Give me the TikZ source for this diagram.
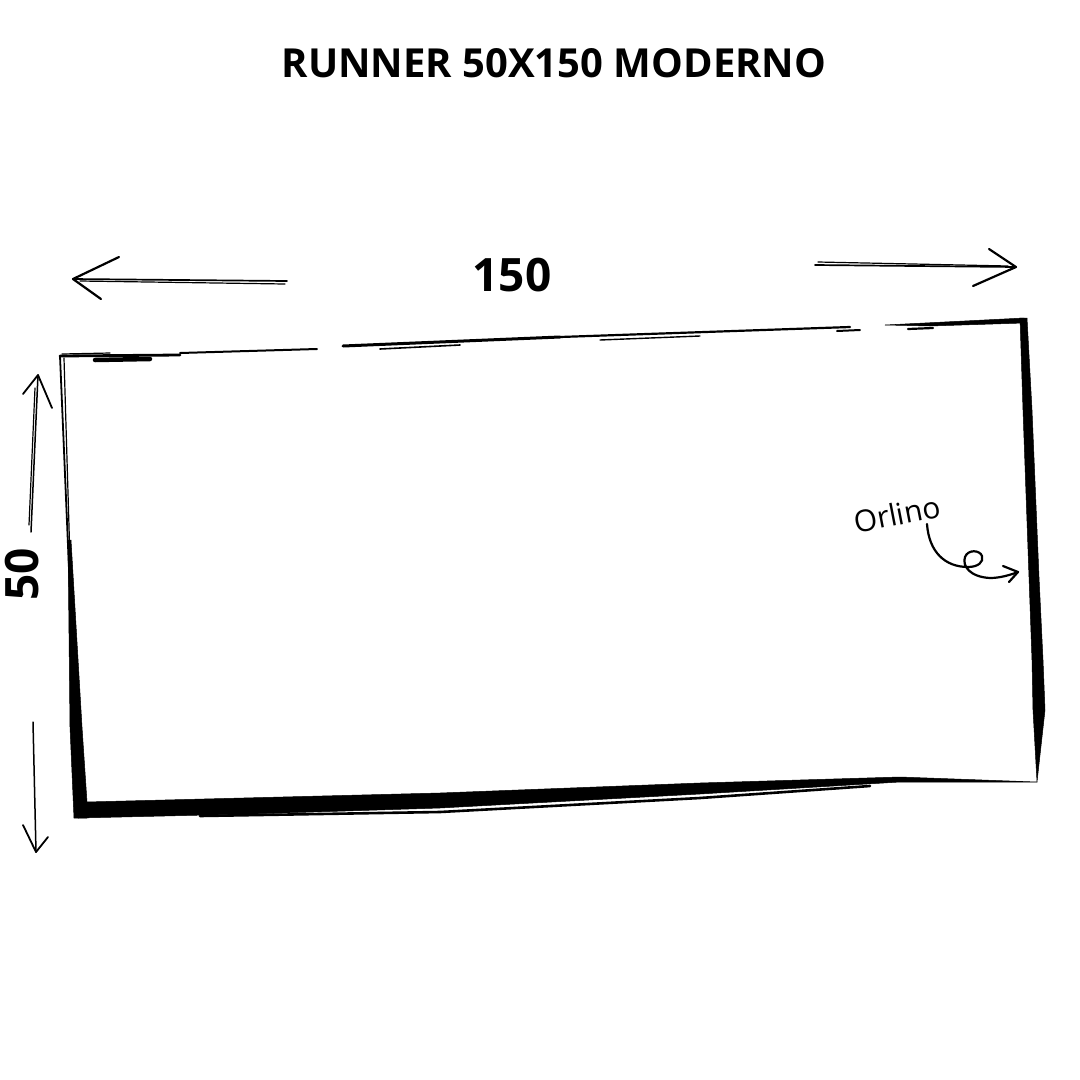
\documentclass[tikz,border=0pt]{standalone}
\usepackage{fontspec}
\setmainfont{Open Sans}

\begin{document}
\begin{tikzpicture}[
  x=1pt, y=-1pt,
  every node/.style={inner sep=0pt},
  pen/.style={line width=2.2pt, line cap=round, line join=round},
  hair/.style={line width=1.2pt, line cap=round},
  ink/.style={fill=black, draw=black, line width=0.5pt, line join=round},
  dimtext/.style={font=\fontsize{46}{50}\selectfont\bfseries}
]
  \useasboundingbox (0,0) rectangle (1080,1080);

  % title and labels
  \node[font=\fontsize{40}{48}\selectfont\bfseries] (title) at (554,63) {RUNNER 50X150 MODERNO};
  \node[dimtext] (width) at (512,275) {150};
  \node[dimtext, rotate=90] (height) at (22,574) {50};
  \node[font=\fontsize{30}{34}\selectfont, rotate=11] (orlino) at (897,514) {Orlino};

  % corners of the runner
  \coordinate (tl) at (60,356);
  \coordinate (tr) at (1024,318);
  \coordinate (br) at (1037,782);
  \coordinate (bl) at (78,818);

  % top edge, sketchy
  \draw[pen, line width=2.8pt] (tl) -- (180,355);
  \draw[pen, line width=4.5pt] (95,360) -- (150,359);
  \draw[hair] (62,354) -- (110,353);
  \draw[pen, line width=2pt] (180,353) -- (317,349);
  \draw[pen, line width=3pt] (343,346) -- (560,337);
  \draw[pen, line width=1.6pt] (380,349) -- (460,345);
  \draw[pen, line width=2.2pt] (560,337) -- (850,327);
  \draw[pen, line width=1.4pt] (600,340) -- (700,336);
  \draw[pen, line width=2pt] (837,331) -- (860,330);
  \draw[pen, line width=2.2pt] (908,329) -- (933,328);
  \filldraw[ink] (885,325) -- (tr) -- (1024,323) -- (930,326) -- cycle;

  % right edge
  \filldraw[ink] (1020,318) -- (tr) -- (1027,318) -- (1032,410) -- (1039,577)
    -- (1043,660) -- (1045,710) -- (br) -- (1033,710) -- (1032,660)
    -- (1029,577) -- (1023,410) -- cycle;

  % bottom edge
  \filldraw[ink] (86,802) -- (440,793) -- (700,783) -- (900,777) -- (br)
    -- (900,782) -- (700,794) -- (440,808) -- (250,814) -- (bl) -- cycle;
  \draw[pen, line width=2.6pt] (200,816) -- (440,812) -- (700,798) -- (870,786);

  % left edge
  \draw[hair, line width=1.8pt] (tl) -- (72,640);
  \draw[hair] (64,358) -- (70,560);
  \filldraw[ink] (68,540) -- (71,540) -- (82,727) -- (87,802) -- (87,818)
    -- (bl) -- (74,818) -- (70,727) -- cycle;

  % width arrows
  \coordinate (wl) at (73,279);
  \coordinate (wlend) at (287,281);
  \coordinate (wr) at (1016,267);
  \coordinate (wrend) at (815,265);
  \draw[pen, line width=1.7pt] (wlend) -- (wl);
  \draw[hair] (285,284) -- (80,281);
  \draw[pen] (119,257) -- (wl) -- (101,299);
  \draw[pen, line width=1.7pt] (wrend) -- (wr);
  \draw[hair] (818,262) -- (1008,266);
  \draw[pen] (989,249) -- (wr) -- (973,286);

  % height arrows
  \coordinate (hu) at (38,375);
  \coordinate (huend) at (31,532);
  \coordinate (hd) at (36,852);
  \coordinate (hdend) at (33,722);
  \draw[hair, line width=1.5pt] (huend) -- (hu);
  \draw[hair] (29,525) -- (35,388);
  \draw[pen, line width=1.8pt] (23,394) -- (hu) -- (52,408);
  \draw[hair, line width=1.5pt] (hdend) -- (hd);
  \draw[pen, line width=1.8pt] (23,825) -- (hd) -- (48,837);

  % hem pointer
  \coordinate (orltail) at (927,524);
  \coordinate (orltip) at (1018,572);
  \draw[pen] (orltail) .. controls (929,552) and (945,567) .. (968,567)
    .. controls (978,567) and (984,562) .. (982,556)
    .. controls (980,550) and (968,549) .. (965,557)
    .. controls (962,566) and (970,577) .. (990,578)
    .. controls (1000,578) and (1010,575) .. (orltip);
  \draw[pen] (1003,566) -- (orltip) -- (1009,582);
\end{tikzpicture}
\end{document}
